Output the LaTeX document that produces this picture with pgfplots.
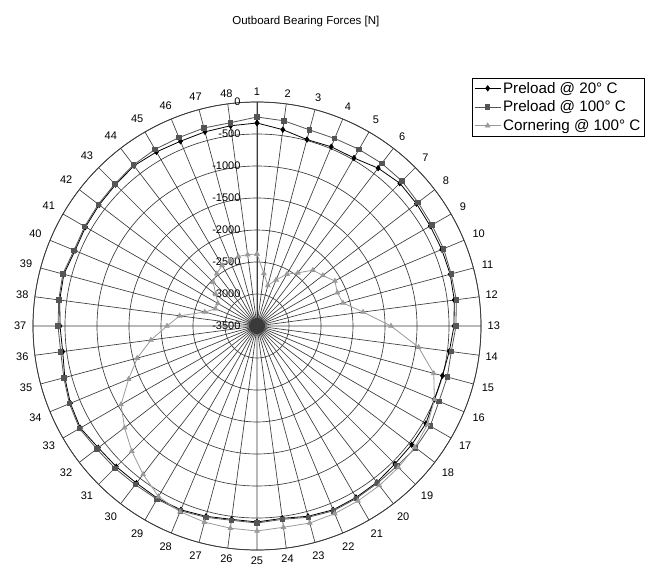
\documentclass[border=0pt]{standalone}
\usepackage{fontspec}
\setmainfont{Liberation Sans}
\usepackage{pgfplots}
\usepackage{pgfplotstable}
\pgfplotsset{compat=1.18}
\usepgfplotslibrary{polar}
\definecolor{gridc}{HTML}{3A3A3A}
\definecolor{p100c}{HTML}{555555}
\definecolor{cornc}{HTML}{9A9A9A}
\pgfplotstableread{
k p20 p100 corn
1 -328 -234 -2375
2 -406 -266 -2672
3 -484 -328 -2844
4 -469 -328 -2719
5 -469 -313 -2563
6 -391 -297 -2453
7 -344 -297 -2266
8 -359 -328 -2203
9 -375 -344 -2094
10 -375 -344 -2141
11 -375 -359 -2109
12 -391 -359 -1828
13 -422 -391 -1406
14 -469 -438 -953
15 -500 -422 -641
16 -500 -422 -500
17 -453 -375 -422
18 -453 -375 -391
19 -453 -406 -375
20 -422 -406 -359
21 -406 -391 -344
22 -391 -375 -328
23 -422 -406 -313
24 -469 -453 -328
25 -438 -422 -297
26 -453 -438 -313
27 -422 -406 -328
28 -391 -375 -359
29 -391 -375 -422
30 -406 -375 -578
31 -391 -359 -734
32 -375 -344 -891
33 -313 -297 -1047
34 -344 -328 -1328
35 -391 -375 -1563
36 -438 -406 -1828
37 -422 -391 -2094
38 -391 -375 -2281
39 -375 -359 -2656
40 -422 -406 -2797
41 -406 -391 -2797
42 -391 -375 -2688
43 -375 -359 -2531
44 -344 -328 -2469
45 -359 -313 -2406
46 -375 -313 -2391
47 -359 -297 -2375
48 -344 -297 -2375
49 -328 -234 -2375
}\data
\begin{document}
\begin{tikzpicture}
\begin{polaraxis}[
  scale only axis, width=448pt, height=448pt,
  xmin=-270, xmax=90, ymin=0, ymax=3500,
  xtick={-270,-262.5,-255,...,82.5},
  xticklabels={1,48,47,46,45,44,43,42,41,40,39,38,37,36,35,34,33,32,31,30,29,28,27,26,25,24,23,22,21,20,19,18,17,16,15,14,13,12,11,10,9,8,7,6,5,4,3,2},
  ytick={0,500,...,3500},
  yticklabels={-3500,-3000,-2500,-2000,-1500,-1000,-500,0},
  xmajorgrids, ymajorgrids,
  grid style={gridc, line width=0.65pt},
  axis line style={gridc, line width=0.75pt},
  major tick length=0pt,
  xticklabel style={font=\fontsize{11}{13}\selectfont, inner sep=6.5pt},
  yticklabel style={font=\fontsize{11}{13}\selectfont, anchor=east, xshift=-13pt},
  title={Outboard Bearing Forces [N]},
  title style={at={(0.609,1.147)}, anchor=center, font=\fontsize{11.5}{14}\selectfont},
  legend style={at={(0.98,1.054)}, anchor=north west, draw=black, line width=0.5pt,
    font=\fontsize{15.2}{17.5}\selectfont, inner sep=2pt, row sep=2.2pt, fill=white},
  legend cell align=left,
  legend image code/.code={\draw[#1, mark repeat=2, mark phase=2] plot coordinates {(0pt,0pt) (13pt,0pt) (26pt,0pt)};},
]
\coordinate (C) at (axis cs:0,0);
\addplot[black, line width=0.8pt, mark=diamond*, mark size=2.6pt, mark options={solid, fill=black}]
  table[x expr={90-7.5*(\thisrow{k}-1)}, y expr={\thisrow{p20}+3500}] {\data};
\addlegendentry{Preload @ 20° C}
\addplot[p100c, line width=0.8pt, mark=square*, mark size=2.2pt, mark options={solid, fill=p100c}]
  table[x expr={90-7.5*(\thisrow{k}-1)}, y expr={\thisrow{p100}+3500}] {\data};
\addlegendentry{Preload @ 100° C}
\addplot[cornc, line width=0.8pt, mark=triangle*, mark size=2.6pt, mark options={solid, fill=cornc}]
  table[x expr={90-7.5*(\thisrow{k}-1)}, y expr={\thisrow{corn}+3500}] {\data};
\addlegendentry{Cornering @ 100° C}
\end{polaraxis}
\pgfresetboundingbox
\path[use as bounding box] ([xshift=-257pt,yshift=-248pt]C) rectangle ([xshift=395pt,yshift=326pt]C);
\end{tikzpicture}
\end{document}
